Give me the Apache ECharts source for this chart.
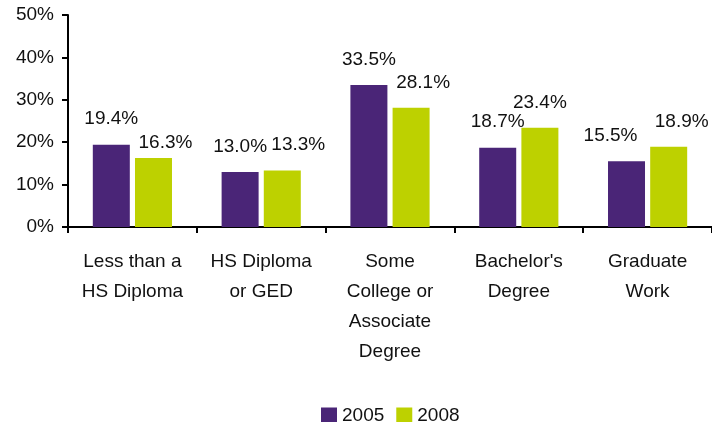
<!DOCTYPE html>
<html>
<head>
<meta charset="utf-8">
<script src="https://cdn.jsdelivr.net/npm/echarts@6/dist/echarts.min.js"></script>
<style>
  html, body { margin: 0; padding: 0; background: #fff; }
  #chart { width: 712px; height: 422px; }
</style>
</head>
<body>
<div id="chart"></div>
<script>
const categories = ['Less than a\nHS Diploma', 'HS Diploma\nor GED', 'Some\nCollege or\nAssociate\nDegree', "Bachelor's\nDegree", 'Graduate\nWork'];
const seriesNames = ['2005', '2008'];
const values2005 = [19.4, 13.0, 33.5, 18.7, 15.5];
const values2008 = [16.3, 13.3, 28.1, 23.4, 18.9];
const yTicks = [0, 10, 20, 30, 40, 50];

// labels were nudged by hand in the original to avoid overlapping
const offsets2005 = [[0, 0], [0, 0], [0, 0], [0, 0], [-16, 0]];
const offsets2008 = [[12, 10], [16, 0], [12, 0], [0, 0], [13, 0]];

const font = 'Liberation Sans, Arial, sans-serif';

function makeData(vals, offs) {
  return vals.map((v, i) => ({ value: v, label: { offset: offs[i] } }));
}

const chart = echarts.init(document.getElementById('chart'));
chart.setOption({
  animation: false,
  textStyle: { fontFamily: font },
  color: ['#4a2577', '#bdd100'],
  grid: { left: 68, right: -5, top: 15, bottom: 195 },
  legend: {
    data: seriesNames,
    top: 401,
    left: 316,
    icon: 'rect',
    itemWidth: 16,
    itemHeight: 16,
    itemGap: 12,
    textStyle: { fontSize: 19, color: '#111', fontFamily: font }
  },
  xAxis: {
    type: 'category',
    data: categories,
    axisLine: { lineStyle: { color: '#000', width: 2 } },
    axisTick: { show: true, length: 6, lineStyle: { color: '#000', width: 2 } },
    axisLabel: { interval: 0, fontSize: 19, lineHeight: 30, margin: 20, color: '#111', fontFamily: font }
  },
  yAxis: {
    type: 'value',
    min: yTicks[0],
    max: yTicks[yTicks.length - 1],
    interval: 10,
    splitLine: { show: false },
    axisLine: { show: true, lineStyle: { color: '#000', width: 2 } },
    axisTick: { show: true, length: 6, lineStyle: { color: '#000', width: 2 } },
    axisLabel: { fontSize: 19, margin: 14, color: '#111', fontFamily: font, formatter: v => v + '%' }
  },
  series: [
    {
      name: seriesNames[0],
      type: 'bar',
      barWidth: 37,
      barGap: '14%',
      data: makeData(values2005, offsets2005),
      label: { show: true, position: 'top', distance: 16, fontSize: 19, color: '#111', fontFamily: font, formatter: p => p.value.toFixed(1) + '%' }
    },
    {
      name: seriesNames[1],
      type: 'bar',
      barWidth: 37,
      barGap: '14%',
      data: makeData(values2008, offsets2008),
      label: { show: true, position: 'top', distance: 16, fontSize: 19, color: '#111', fontFamily: font, formatter: p => p.value.toFixed(1) + '%' }
    }
  ]
});
</script>
</body>
</html>
